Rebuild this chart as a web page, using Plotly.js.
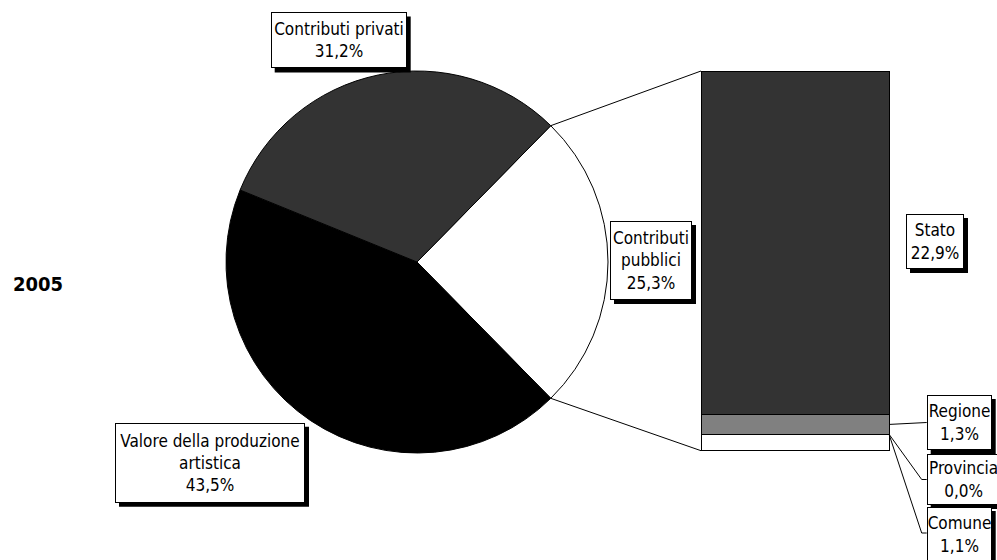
<!DOCTYPE html>
<html><head><meta charset="utf-8">
<script src="https://cdn.plot.ly/plotly-3.0.1.min.js"></script>
<style>html,body{margin:0;padding:0;background:#fff;} #chart{width:997px;height:560px;}</style>
</head><body><div id="chart"></div>
<script>
// ---- data ----
const yearLabel = '2005';
const pieLabels = ['Contributi pubblici', 'Contributi privati', 'Valore della produzione artistica'];
const pieValues = [25.3, 31.2, 43.5];
const pieColors = ['#ffffff', '#333333', '#000000'];
const barLabels = ['Stato', 'Regione', 'Provincia', 'Comune'];
const barValues = [22.9, 1.3, 0.0, 1.1];
const barColors = ['#333333', '#808080', '#b0b0b0', '#ffffff'];

// ---- geometry (pixels) ----
const W = 997, H = 560;
const px = x => x / W, py = y => 1 - y / H;
const fmt = v => v.toFixed(1).replace('.', ',') + '%';
const FONT = 'DejaVu Sans Condensed, Liberation Sans, Arial, sans-serif';

const pieC = {x: 417, y: 262}, pieR = 191;
const bar = {left: 701, right: 889, top: 71, bottom: 450.7};
const m = 3;

const pieTotal = pieValues.reduce((a, b) => a + b, 0);
const halfDeg = pieValues[0] / pieTotal * 180;
const barTotal = barValues.reduce((a, b) => a + b, 0);
const k = (bar.bottom - bar.top) / barTotal;
const yPix = v => bar.bottom - v * k;

// pie in clockwise order: pubblici, valore, privati
const order = [0, 2, 1];
const pieTrace = {
  type: 'pie', sort: false, direction: 'clockwise',
  rotation: 90 - halfDeg,
  labels: order.map(i => pieLabels[i]),
  values: order.map(i => pieValues[i]),
  marker: {colors: order.map(i => pieColors[i]), line: {color: '#000', width: 1}},
  textinfo: 'none', hoverinfo: 'skip', showlegend: false,
  domain: {x: [px(pieC.x - pieR), px(pieC.x + pieR)], y: [py(pieC.y + pieR), py(pieC.y - pieR)]}
};

// stacked bar: bottom to top = Comune, Provincia, Regione, Stato
const barTraces = [3, 2, 1, 0].map(i => ({
  type: 'bar', x: [0], y: [barValues[i]], width: [1], name: barLabels[i],
  marker: {color: barColors[i], line: {color: '#000', width: 1}},
  hoverinfo: 'skip', showlegend: false, xaxis: 'x', yaxis: 'y'
}));

const bw = bar.right - bar.left;
const layout = {
  width: W, height: H, margin: {l: 0, r: 0, t: 0, b: 0},
  paper_bgcolor: '#fff', plot_bgcolor: 'rgba(0,0,0,0)',
  barmode: 'stack', hovermode: false, showlegend: false,
  xaxis: {domain: [px(bar.left - m), px(bar.right + m)], range: [-0.5 - m / bw, 0.5 + m / bw], visible: false, fixedrange: true},
  yaxis: {domain: [py(bar.bottom + m), py(bar.top - m)], range: [-m / k, barTotal + m / k], visible: false, fixedrange: true},
  shapes: [], annotations: []
};

// connector lines pie -> bar
const hr = halfDeg * Math.PI / 180;
const ex = pieC.x + pieR * Math.cos(hr), eyT = pieC.y - pieR * Math.sin(hr), eyB = pieC.y + pieR * Math.sin(hr);
const line = (x0, y0, x1, y1) => ({type: 'line', xref: 'paper', yref: 'paper', layer: 'above',
  x0: px(x0), y0: py(y0), x1: px(x1), y1: py(y1), line: {color: '#000', width: 1}});
const path = pts => ({type: 'path', xref: 'paper', yref: 'paper', layer: 'above',
  path: pts.map((p, j) => (j ? 'L' : 'M') + px(p[0]) + ',' + py(p[1])).join(' '), line: {color: '#000', width: 1}});
layout.shapes.push(line(ex, eyT, bar.left, bar.top));
layout.shapes.push(line(ex, eyB, bar.left, bar.bottom));

// leader lines for small segments
const boxL = 926.7;
layout.shapes.push(line(bar.right, yPix(barValues[3] + barValues[2] + barValues[1] / 2), boxL, 422.5));
layout.shapes.push(path([[bar.right, yPix(barValues[3] + barValues[2] / 2)], [921.7, 479.5], [boxL, 479.5]]));
layout.shapes.push(path([[bar.right, yPix(barValues[3])], [921.7, 533], [boxL, 533]]));

// labels: drop shadow (shape) + white bordered box (annotation)
function label(text, cx, cy, w, h, fitText) {
  const sh = 4;
  layout.shapes.push({type: 'rect', xref: 'paper', yref: 'paper', layer: 'above',
    x0: px(cx - w / 2 + sh), x1: px(cx + w / 2 + sh), y0: py(cy - h / 2 + sh), y1: py(cy + h / 2 + sh),
    fillcolor: '#000', line: {width: 0}});
  const a = {xref: 'paper', yref: 'paper', x: px(cx), y: py(cy), xanchor: 'center', yanchor: 'middle',
    showarrow: false, text: text, borderwidth: 1, borderpad: 0, align: 'center',
    bgcolor: '#fff', bordercolor: '#000', font: {family: FONT, size: 17, color: '#000'}};
  if (fitText) { a.x = px(cx - w / 2); a.xanchor = 'left'; a.borderpad = 1; a.height = h - 4; }
  else { a.width = w - 2; a.height = h - 2; }
  layout.annotations.push(a);
}
label(pieLabels[1] + '<br>' + fmt(pieValues[1]), 338.7, 40.5, 136, 56);
label('Valore della produzione<br>artistica<br>' + fmt(pieValues[2]), 210, 462.7, 190, 80);
label('Contributi<br>pubblici<br>' + fmt(pieValues[0]), 651, 260.5, 82, 79);
label(barLabels[0] + '<br>' + fmt(barValues[0]), 935, 241.5, 58, 55);
label(barLabels[1] + '<br>' + fmt(barValues[1]), 959.2, 422.5, 65, 55);
label(barLabels[2] + '<br>' + fmt(barValues[2]), 963.2, 479.5, 73, 51, true);
label(barLabels[3] + '<br>' + fmt(barValues[3]), 959.2, 534.5, 65, 55);

layout.annotations.push({xref: 'paper', yref: 'paper', x: px(37.5), y: py(283.5), xanchor: 'center', yanchor: 'middle',
  showarrow: false, text: yearLabel, font: {family: FONT, size: 20, color: '#000', weight: 'bold'}});

Plotly.newPlot('chart', [pieTrace].concat(barTraces), layout, {staticPlot: true, displayModeBar: false});
</script></body></html>
